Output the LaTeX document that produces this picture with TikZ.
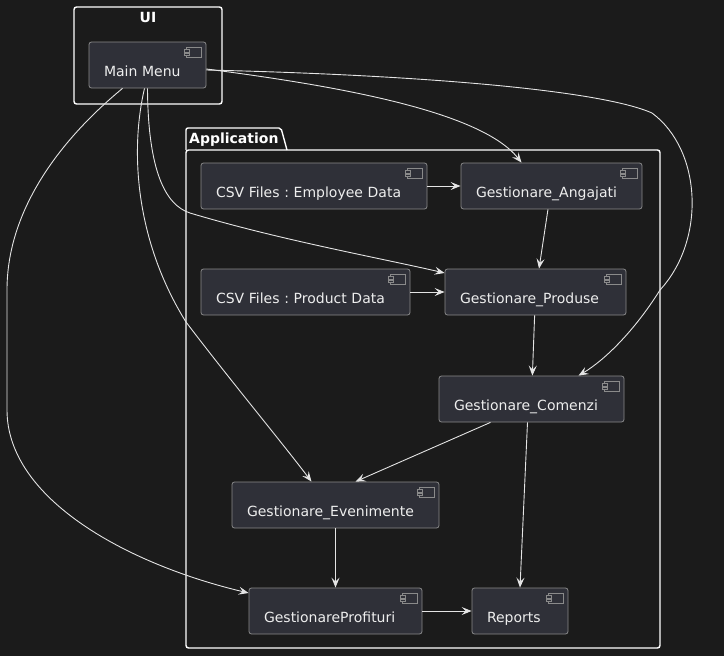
\documentclass[tikz,border=0pt]{standalone}
\usepackage{fontspec}
\setmainfont{DejaVu Sans}
\usetikzlibrary{arrows.meta}
\frenchspacing
\definecolor{bgdark}{HTML}{1B1B1B}
\definecolor{compfill}{HTML}{2F3038}
\definecolor{compline}{HTML}{8A8A8A}
\definecolor{textlight}{HTML}{EEEEEE}
\definecolor{linklight}{HTML}{E4E4E4}

\tikzset{
 comp/.style={draw=compline,fill=compfill,rounded corners=2.5pt,text=textlight,line width=0.8pt,
  inner xsep=15pt,inner ysep=0pt,text height=34pt,text depth=12pt,align=left,
  font=\fontsize{14}{16}\selectfont,
  path picture={
   \draw[compline,line width=0.8pt,sharp corners]
    ([xshift=-19.5pt,yshift=-5.5pt]path picture bounding box.north east)
    rectangle ([xshift=-4.5pt,yshift=-15pt]path picture bounding box.north east);
   \draw[compline,fill=compfill,line width=0.8pt,sharp corners]
    ([xshift=-22pt,yshift=-7.5pt]path picture bounding box.north east)
    rectangle ([xshift=-17pt,yshift=-10pt]path picture bounding box.north east);
   \draw[compline,fill=compfill,line width=0.8pt,sharp corners]
    ([xshift=-22pt,yshift=-11pt]path picture bounding box.north east)
    rectangle ([xshift=-17pt,yshift=-13.5pt]path picture bounding box.north east);
  }},
 link/.style={draw=linklight,line width=0.9pt,-{Stealth[length=10pt,width=8pt,inset=4pt]}},
 frame/.style={draw=white,line width=1.4pt,rounded corners=2.5pt},
 frametitle/.style={text=white,inner sep=0pt,font=\bfseries\fontsize{14}{16}\selectfont}
}

\begin{document}
\begin{tikzpicture}[x=1pt,y=-1pt]
\fill[bgdark] (0,0) rectangle (724,656);
\useasboundingbox (0,0) rectangle (724,656);

% containers
\draw[frame] (74,7) rectangle (222,104);
\node[frametitle,anchor=base] (uititle) at (148,22) {UI};
\draw[frame,rounded corners=2pt] (186,150) -- (186,128) -- (281,128) -- (287,150);
\draw[frame] (186,150) rectangle (660,648);
\node[frametitle,anchor=base west] (apptitle) at (189,143.5) {Application};

% components
\node[comp,text width=87pt] (mainmenu) at (147.5,65) {Main Menu};
\node[comp,text width=196pt] (csvemp) at (314,186) {CSV Files : Employee Data};
\node[comp,text width=151pt] (angajati) at (551.5,186) {Gestionare\_Angajati};
\node[comp,text width=179pt] (csvprod) at (305.5,292) {CSV Files : Product Data};
\node[comp,text width=151pt] (produse) at (535.5,292) {Gestionare\_Produse};
\node[comp,text width=155pt] (comenzi) at (531.5,399) {Gestionare\_Comenzi};
\node[comp,text width=177pt] (evenimente) at (335.5,505) {Gestionare\_Evenimente};
\node[comp,text width=143pt] (profituri) at (335.5,611) {GestionareProfituri};
\node[comp,text width=66pt] (reports) at (520,611) {Reports};

% links from the menu
\draw[link] ([yshift=-4pt]mainmenu.east) .. controls (330,85) and (480,110) .. ([xshift=-30pt]angajati.north);
\draw[link] ([yshift=-5pt]mainmenu.east) .. controls (420,75) and (600,90) .. (652,113)
 .. controls (702,150) and (706,240) .. (660,290) .. controls (635,330) and (605,360) .. ([xshift=47pt]comenzi.north);
\draw[link] (mainmenu.south) .. controls (148,170) and (165,205) .. (190,213)
 .. controls (280,240) and (380,258) .. ([yshift=19pt]produse.west);
\draw[link] ([xshift=-3pt]mainmenu.south) .. controls (130,150) and (135,240) .. (186,322)
 .. controls (230,380) and (280,440) .. ([xshift=-24pt]evenimente.north);
\draw[link] ([xshift=-25pt]mainmenu.south) .. controls (60,140) and (7,210) .. (7,290) -- (7,410)
 .. controls (7,500) and (130,565) .. ([yshift=18pt]profituri.west);

% links inside the application
\draw[link] (csvemp) -- (angajati);
\draw[link] (angajati) -- (produse);
\draw[link] (csvprod) -- (produse);
\draw[link] (produse) -- (comenzi);
\draw[link] ([xshift=-41pt]comenzi.south) -- ([xshift=20pt]evenimente.north);
\draw[link] ([xshift=-4pt]comenzi.south) -- (reports.north);
\draw[link] (evenimente) -- (profituri);
\draw[link] (profituri) -- (reports);
\end{tikzpicture}
\end{document}
